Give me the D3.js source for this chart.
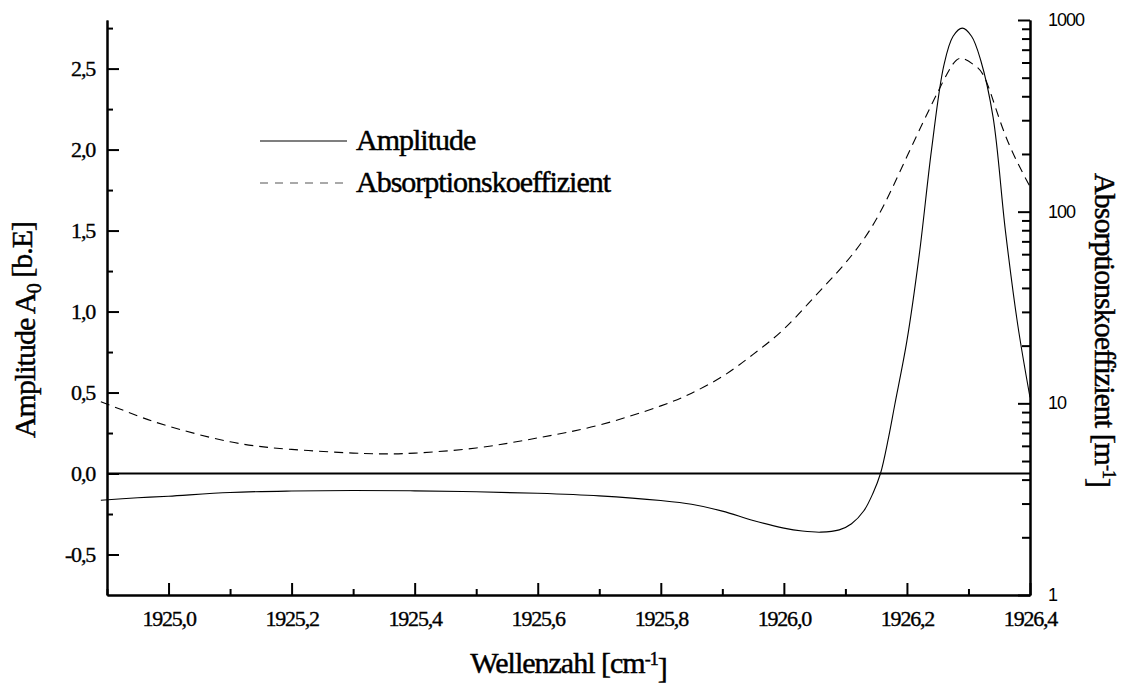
<!DOCTYPE html>
<html>
<head>
<meta charset="utf-8">
<script src="https://cdn.jsdelivr.net/npm/d3@7"></script>
<style>
  body { margin: 0; background: #fff; }
  svg { display: block; }
  .serif { font-family: "Liberation Serif", "Times New Roman", serif; fill: #000; stroke: #000; stroke-width: 0.45px; }
  .tick text { font-family: "Liberation Serif", "Times New Roman", serif; font-size: 22px; letter-spacing: -1.2px; fill: #000; stroke: #000; stroke-width: 0.35px; }
  .axR .tick text { font-family: "Liberation Sans", Arial, sans-serif; font-size: 18px; letter-spacing: -1px; stroke: none; }
</style>
</head>
<body>
<div id="chart"></div>
<script>
// Amplitude (left axis, linear)
var ampWave = [1924.89, 1924.95, 1925.0, 1925.1, 1925.2, 1925.3, 1925.4, 1925.5, 1925.6, 1925.7,
               1925.8, 1925.85, 1925.9, 1925.95, 1926.0, 1926.03, 1926.06, 1926.09, 1926.11, 1926.13,
               1926.145, 1926.157, 1926.17, 1926.18, 1926.2, 1926.22, 1926.24, 1926.26, 1926.275, 1926.29,
               1926.305, 1926.32, 1926.34, 1926.36, 1926.38, 1926.40];
var ampValues = [-0.165, -0.15, -0.14, -0.117, -0.108, -0.105, -0.107, -0.113, -0.122, -0.138,
                 -0.167, -0.19, -0.232, -0.29, -0.337, -0.355, -0.362, -0.348, -0.31, -0.23,
                 -0.12, 0.0, 0.22, 0.42, 0.82, 1.35, 2.0, 2.52, 2.70, 2.75,
                 2.70, 2.55, 2.2, 1.5, 0.92, 0.47];

// Absorptionskoeffizient (right axis, log)
var absWave = [1924.89, 1924.95, 1925.0, 1925.1, 1925.2, 1925.3, 1925.35, 1925.4, 1925.5, 1925.6,
               1925.7, 1925.8, 1925.85, 1925.9, 1925.95, 1926.0, 1926.05, 1926.1, 1926.15, 1926.2,
               1926.25, 1926.275, 1926.29, 1926.31, 1926.33, 1926.36, 1926.4];
var absValues = [10.2, 8.6, 7.6, 6.3, 5.75, 5.5, 5.45, 5.5, 5.85, 6.6,
                 7.7, 9.7, 11.3, 13.8, 18, 24.4, 36, 54, 91, 194,
                 420, 590, 630, 580, 470, 250, 135];

var xTicks = [1925.0, 1925.2, 1925.4, 1925.6, 1925.8, 1926.0, 1926.2, 1926.4];
var yTicks = [-0.5, 0.0, 0.5, 1.0, 1.5, 2.0, 2.5];
var logTicks = [1, 10, 100, 1000];
var legendLabels = ["Amplitude", "Absorptionskoeffizient"];

var W = 1132, H = 684;
var margin = {top: 20, right: 102, bottom: 89, left: 107},
    width = W - margin.left - margin.right,
    height = H - margin.top - margin.bottom;

var svg = d3.select("#chart").append("svg")
    .attr("width", W)
    .attr("height", H);

var g = svg.append("g")
    .attr("transform", "translate(" + margin.left + "," + margin.top + ")");

var x = d3.scaleLinear().domain([1924.9, 1926.4]).range([0, width]);
var y = d3.scaleLinear().domain([-0.75, 2.8]).range([height, 0]);
var yLog = d3.scaleLog().domain([1, 1000]).range([height, 0]);

var comma = function(d) { return d.toFixed(1).replace(".", ","); };

// minor ticks
var xMinor = d3.range(1924.9, 1926.41, 0.1).filter(function(v) {
  return Math.abs(Math.round(v * 5) - v * 5) > 0.01;
});
var yMinor = d3.range(-0.25, 2.8, 0.5);
var logMinor = [];
[1, 10, 100].forEach(function(dec) {
  for (var k = 2; k <= 9; k++) logMinor.push(dec * k);
});

g.append("g")
    .attr("transform", "translate(0," + height + ")")
    .call(d3.axisBottom(x).tickValues(xMinor).tickSize(-6).tickSizeOuter(0).tickFormat(""));
g.append("g")
    .attr("transform", "translate(0," + height + ")")
    .call(d3.axisBottom(x).tickValues(xTicks).tickSize(-12).tickSizeOuter(0).tickPadding(15).tickFormat(comma));

g.append("g")
    .call(d3.axisLeft(y).tickValues(yMinor).tickSize(-6).tickSizeOuter(0).tickFormat(""));
g.append("g")
    .call(d3.axisLeft(y).tickValues(yTicks).tickSize(-12).tickSizeOuter(0).tickPadding(12).tickFormat(comma));

g.append("g")
    .attr("transform", "translate(" + width + ",0)")
    .call(d3.axisRight(yLog).tickValues(logMinor).tickSize(-8).tickSizeOuter(0).tickFormat(""));
g.append("g")
    .attr("class", "axR")
    .attr("transform", "translate(" + width + ",0)")
    .call(d3.axisRight(yLog).tickValues(logTicks).tickSize(-12).tickSizeOuter(0).tickPadding(18).tickFormat(d3.format("d")));

g.selectAll(".domain, .tick line").attr("stroke", "#000").attr("stroke-width", 2);
g.selectAll(".axR .tick text").attr("dy", "0.3em");

// zero line
g.append("line")
    .attr("x1", 0).attr("x2", width)
    .attr("y1", y(0)).attr("y2", y(0))
    .attr("stroke", "#000").attr("stroke-width", 2);

var ampLine = d3.line()
    .x(function(d, i) { return x(ampWave[i]); })
    .y(function(d) { return y(d); })
    .curve(d3.curveCatmullRom);

var absLine = d3.line()
    .x(function(d, i) { return x(absWave[i]); })
    .y(function(d) { return yLog(d); })
    .curve(d3.curveNatural);

g.append("path")
    .datum(ampValues)
    .attr("d", ampLine)
    .attr("fill", "none").attr("stroke", "#000").attr("stroke-width", 1.1);

g.append("path")
    .datum(absValues)
    .attr("d", absLine)
    .attr("fill", "none").attr("stroke", "#000").attr("stroke-width", 1.1)
    .attr("stroke-dasharray", "9,6");

// legend
var legend = svg.append("g");
legendLabels.forEach(function(lbl, i) {
  var ly = 141 + i * 42;
  legend.append("line")
      .attr("x1", 260).attr("x2", 347)
      .attr("y1", ly).attr("y2", ly)
      .attr("stroke", i ? "#555" : "#000").attr("stroke-width", 1.2)
      .attr("stroke-dasharray", i ? "8,7" : null);
  legend.append("text")
      .attr("class", "serif")
      .attr("x", 356).attr("y", ly + 9)
      .attr("font-size", 30).attr("letter-spacing", "-1px")
      .text(lbl);
});

// axis titles
var xt = svg.append("text").attr("class", "serif")
    .attr("x", margin.left + width / 2).attr("y", 673)
    .attr("text-anchor", "middle")
    .attr("font-size", 30).attr("letter-spacing", "-1px");
xt.append("tspan").text("Wellenzahl [cm");
xt.append("tspan").attr("dy", "-0.45em").attr("font-size", "18px").text("-1");
xt.append("tspan").attr("dy", "0.45em").text("]");

var yt = svg.append("text").attr("class", "serif")
    .attr("transform", "translate(35,330) rotate(-90)")
    .attr("text-anchor", "middle")
    .attr("font-size", 30).attr("letter-spacing", "-1px");
yt.append("tspan").text("Amplitude A");
yt.append("tspan").attr("dy", "0.3em").attr("font-size", "20px").text("0");
yt.append("tspan").attr("dy", "-0.3em").text(" [b.E]");

var rt = svg.append("text").attr("class", "serif")
    .attr("transform", "translate(1095,330) rotate(90)")
    .attr("text-anchor", "middle")
    .attr("font-size", 30).attr("letter-spacing", "-1px");
rt.append("tspan").text("Absorptionskoeffizient [m");
rt.append("tspan").attr("dy", "-0.45em").attr("font-size", "18px").text("-1");
rt.append("tspan").attr("dy", "0.45em").text("]");
</script>
</body>
</html>
